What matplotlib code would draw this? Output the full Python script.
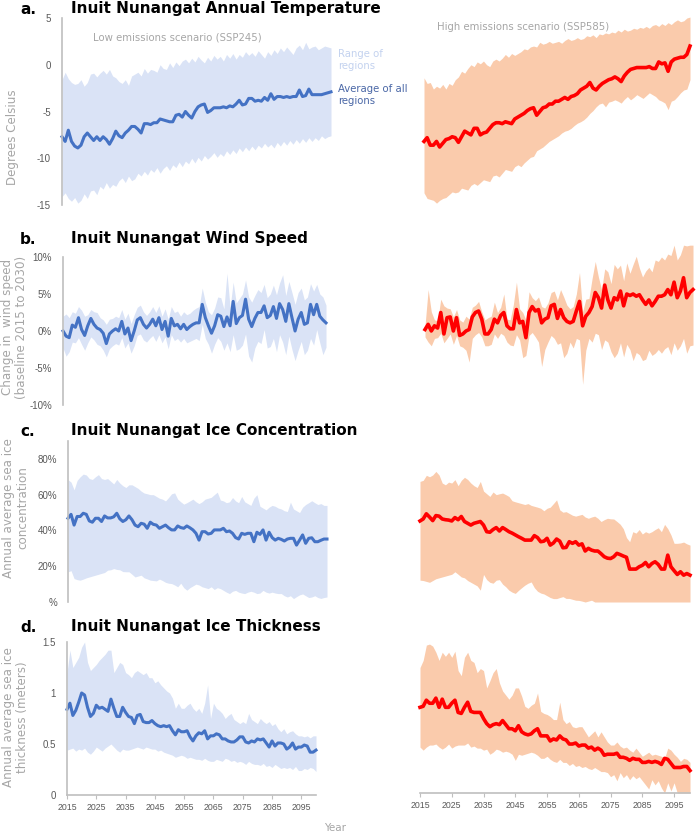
import numpy as np
import matplotlib
matplotlib.use('Agg')
import matplotlib.pyplot as plt

years = np.arange(2015, 2101)

# ---- a. annual temperature (deg C) ----
temp_low_mean = [
    -7.7, -8.2, -7.0, -8.2, -8.7, -8.9, -8.6, -7.7, -7.3, -7.7,
    -8.1, -7.7, -8.1, -7.7, -8.0, -8.5, -7.9, -7.1, -7.6, -7.8,
    -7.3, -7.0, -6.6, -6.6, -6.9, -7.3, -6.3, -6.3, -6.4, -6.2,
    -6.2, -5.8, -5.9, -6.0, -6.1, -6.1, -5.4, -5.3, -5.6, -5.0,
    -5.4, -5.7, -5.0, -4.5, -4.3, -4.2, -5.1, -4.9, -4.6, -4.6,
    -4.6, -4.5, -4.6, -4.4, -4.5, -4.2, -3.8, -4.3, -4.2, -3.6,
    -3.6, -3.9, -3.8, -3.9, -3.5, -3.8, -3.1, -3.7, -3.4, -3.4,
    -3.5, -3.4, -3.5, -3.4, -3.4, -2.7, -3.4, -3.3, -2.6, -3.2,
    -3.2, -3.2, -3.2, -3.1, -3.0, -2.9]
temp_low_hi = [
    -1.6, -0.8, -1.5, -1.9, -2.1, -2.0, -1.6, -2.3, -1.9, -1.0,
    -0.9, -1.3, -0.9, -0.6, -1.0, -0.5, -1.2, -1.4, -1.8, -2.0,
    -1.6, -2.2, -1.2, -1.0, -0.8, -1.2, -0.4, -0.9, -0.5, -0.6,
    -0.8, 0.0, -0.4, -0.5, 0.2, -0.3, 0.3, -0.1, 0.4, 0.6,
    0.2, 0.7, 0.3, 0.9, 0.5, 0.2, 0.8, 0.4, 1.0, 0.6,
    0.9, 0.4, 1.1, 0.7, 1.2, 0.6, 1.1, 0.8, 1.4, 1.0,
    1.3, 0.9, 1.5, 1.1, 0.7, 1.4, 1.0, 1.6, 1.2, 1.8,
    1.4, 1.9, 1.5, 1.1, 1.8, 2.1, 1.6, 2.4, 1.7, 1.9,
    2.0, 1.6, 1.8, 2.0, 1.9, 1.8]
temp_low_lo = [
    -14.1, -13.7, -14.3, -14.6, -14.2, -14.8, -14.5, -13.8, -14.3, -13.5,
    -13.4, -13.9, -13.0, -13.3, -12.6, -13.2, -12.8, -13.0, -12.4, -12.1,
    -12.6, -11.9, -12.4, -12.2, -11.6, -11.9, -11.4, -11.8, -11.2, -11.5,
    -11.0, -11.6, -11.1, -10.8, -11.3, -10.7, -11.0, -10.4, -10.9, -10.3,
    -10.6, -10.0, -10.5, -9.9, -10.3, -9.7, -10.1, -9.8, -9.4, -9.9,
    -9.5, -9.8, -9.2, -9.6, -9.1, -9.5, -8.9, -9.3, -8.8, -9.2,
    -8.7, -9.1, -8.6, -8.9, -8.4, -8.8, -8.5, -8.9, -8.3, -8.7,
    -8.2, -8.6, -8.1, -8.5, -8.0, -8.4, -7.9, -8.3, -7.8, -8.2,
    -7.8, -8.1, -7.6, -7.9, -7.7, -7.6]
temp_high_mean = [
    -8.2, -7.8, -8.6, -8.6, -8.2, -8.8, -8.4, -8.0, -7.9, -7.7,
    -7.8, -8.3, -7.7, -7.1, -7.3, -7.5, -6.8, -6.8, -7.5, -7.3,
    -7.2, -6.8, -6.4, -6.2, -6.2, -6.3, -6.1, -6.2, -6.3, -5.8,
    -5.6, -5.4, -5.2, -4.9, -4.7, -4.6, -5.4, -5.0, -4.6, -4.5,
    -4.2, -4.2, -3.9, -3.9, -3.7, -3.5, -3.7, -3.4, -3.3, -3.1,
    -2.7, -2.5, -2.3, -1.9, -2.5, -2.7, -2.3, -2.0, -1.8, -1.6,
    -1.5, -1.3, -1.5, -1.8, -1.2, -0.8, -0.5, -0.4, -0.3, -0.3,
    -0.3, -0.3, -0.2, -0.4, -0.4, 0.3, 0.1, 0.2, -0.7, 0.3,
    0.6, 0.7, 0.8, 0.8, 1.1, 2.0]
temp_high_hi = [
    -1.4, -2.0, -1.9, -2.6, -2.3, -2.5, -2.1, -2.6, -2.0, -2.2,
    -1.6, -1.3, -0.7, -0.9, -0.4, 0.0, -0.2, 0.3, 0.1, 0.4,
    0.0, -0.2, 0.4, 0.6, 0.4, 0.7, 1.1, 0.8, 1.2, 1.0,
    1.2, 1.4, 1.7, 1.6, 1.9, 2.0, 1.9, 2.4, 2.2, 2.3,
    2.5, 2.3, 2.4, 2.5, 2.3, 2.6, 2.8, 2.6, 2.7, 2.9,
    2.7, 2.8, 3.1, 3.0, 3.2, 2.9, 3.3, 3.2, 3.4, 3.3,
    3.5, 3.4, 3.7, 3.5, 3.8, 3.6, 3.7, 3.9, 3.8, 4.0,
    3.9, 4.1, 3.9, 4.2, 4.3, 4.1, 4.4, 4.2, 4.5, 4.3,
    4.6, 4.8, 4.6, 4.7, 5.0, 5.1]
temp_high_lo = [
    -13.7, -14.3, -14.4, -14.5, -14.8, -14.5, -14.3, -14.2, -13.9, -13.6,
    -13.7, -13.6, -13.2, -13.3, -13.4, -12.9, -12.7, -12.9, -12.6, -12.3,
    -12.4, -12.5, -11.9, -11.8, -12.0, -11.6, -11.2, -11.3, -11.4, -10.9,
    -10.7, -10.9, -10.5, -10.2, -9.9, -9.8, -9.2, -9.0, -8.8, -8.5,
    -8.2, -8.0, -7.8, -7.6, -7.3, -7.1, -7.0, -6.8, -6.5, -6.25,
    -6.1, -5.9, -5.6, -5.2, -4.9, -4.5, -4.2, -4.1, -4.5, -4.0,
    -3.9, -3.75, -3.9, -4.1, -3.7, -3.4, -3.75, -3.5, -3.2, -3.4,
    -3.6, -3.3, -3.0, -3.2, -3.4, -3.75, -3.9, -4.1, -4.8, -3.9,
    -3.75, -3.4, -3.0, -2.7, -2.6, -1.6]

# ---- b. wind speed change (%) ----
wind_low_mean = [
    0.0, -0.7, -0.9, 0.8, 0.5, 1.8, 0.2, -0.6, 0.7, 1.7,
    0.9, 0.4, 0.2, -0.3, -1.7, -0.4, 0.0, 0.3, 0.0, 1.3,
    -0.4, 0.4, -1.3, 0.0, 1.5, 1.8, 0.9, 0.4, 0.9, 1.6,
    0.7, 1.8, 0.2, 1.3, -0.7, 1.7, 0.7, 0.9, 0.3, 0.9,
    0.2, 0.6, 0.9, 1.1, 1.1, 3.6, 1.8, 0.7, -0.3, 0.7,
    2.2, 2.0, 0.6, 1.9, 0.7, 4.0, 1.0, 1.8, 2.1, 4.3,
    1.6, 0.6, 1.7, 2.5, 2.5, 3.4, 1.8, 2.1, 3.3, 1.7,
    3.7, 2.9, 1.3, 3.7, 1.8, 0.0, 1.6, 2.5, 0.9, 1.1,
    3.6, 2.2, 3.6, 2.0, 1.5, 1.1]
wind_low_hi = [
    2.0, 2.3, 1.8, 2.6, 2.4, 3.3, 2.8, 2.0, 2.2, 2.9,
    2.6, 2.5, 1.8, 1.5, 0.9, 1.6, 1.7, 2.0, 1.8, 2.9,
    1.6, 2.4, 1.0, 2.2, 3.2, 3.5, 2.6, 2.1, 2.6, 3.3,
    2.5, 3.4, 2.0, 3.0, 1.6, 3.3, 2.5, 2.7, 2.0, 2.6,
    2.2, 2.4, 2.8, 3.1, 3.3, 5.8, 3.9, 2.6, 2.2, 3.1,
    4.6, 4.5, 3.0, 7.8, 3.2, 6.6, 3.8, 4.4, 5.0, 6.9,
    4.6, 3.9, 4.8, 5.6, 5.2, 6.3, 4.5, 5.0, 6.2, 4.9,
    6.5, 7.6, 4.8, 6.7, 5.2, 3.6, 5.2, 5.8, 4.2, 4.6,
    6.4, 5.4, 6.3, 5.0, 4.6, 3.5]
wind_low_lo = [
    -2.3, -3.4, -2.8, -1.5, -1.6, -0.9, -1.8, -2.6, -1.6, -0.8,
    -1.2, -1.8, -2.0, -2.6, -3.5, -2.4, -2.0, -1.7, -1.9, -0.9,
    -2.3, -1.6, -3.0, -2.0, -0.6, -0.4, -1.2, -1.5, -1.0, -0.6,
    -1.4, -0.5, -1.6, -0.8, -2.4, -0.5, -1.3, -1.0, -1.5, -1.0,
    -1.6, -1.4, -1.2, -1.0, -1.3, 0.9, -1.0, -1.8, -3.0, -1.8,
    -0.9, -1.4, -2.6, -1.6, -2.8, -0.5, -2.6, -2.4, -1.9, -0.4,
    -3.4, -4.2, -2.3, -1.4, -1.7, 0.2, -2.3, -2.1, -1.0, -2.8,
    -0.5, -1.5, -3.2, -0.7, -2.5, -4.0, -2.6, -1.4, -3.2, -2.6,
    -1.0, -1.9, 0.2, -1.6, -3.2, -2.2]
wind_high_mean = [
    0.2, 0.9, 0.0, 0.7, 0.4, 2.5, -0.4, 1.8, 1.9, 0.0,
    1.8, -0.6, -0.4, 0.0, 0.2, 1.9, 2.5, 2.7, 1.6, -0.4,
    -0.4, 0.2, 1.6, 1.1, 2.1, 2.5, 0.7, 0.3, 0.3, 2.9,
    1.1, 1.3, -0.9, 2.5, 3.3, 2.7, 2.9, 1.1, 1.6, 1.8,
    3.4, 3.6, 1.7, 2.9, 1.8, 1.3, 1.1, 1.3, 2.7, 4.0,
    0.7, 2.0, 2.5, 3.3, 5.2, 4.5, 3.1, 6.2, 4.2, 3.1,
    4.5, 4.2, 5.4, 3.4, 5.0, 4.8, 5.0, 4.7, 4.9, 4.2,
    3.6, 4.2, 3.4, 4.0, 4.7, 4.7, 4.9, 5.6, 4.9, 6.6,
    4.5, 5.4, 7.2, 4.5, 5.2, 5.6]
wind_high_hi = [
    0.7, 5.6, 2.6, 1.5, 1.4, 4.3, 3.4, 3.1, 3.0, 1.9,
    2.9, 1.5, 1.2, 2.0, 1.6, 3.2, 3.5, 4.0, 2.6, 1.5,
    1.8, 2.0, 3.9, 2.5, 3.2, 5.0, 1.6, 1.5, 3.5, 6.6,
    3.0, 2.5, 1.5, 5.3, 4.5, 4.1, 4.6, 3.3, 3.1, 3.8,
    5.2, 5.4, 4.2, 5.6, 4.6, 3.5, 3.0, 3.3, 5.0, 7.9,
    2.6, 4.3, 4.4, 7.1, 9.4, 7.3, 5.6, 8.4, 8.0, 6.4,
    9.0, 8.4, 8.9, 6.8, 9.2, 7.8, 9.0, 10.1, 8.5, 7.3,
    8.1, 8.6, 8.0, 9.6, 9.4, 10.0, 9.6, 10.4, 10.2, 11.6,
    9.6, 10.3, 11.6, 11.5, 11.6, 11.6]
wind_high_lo = [
    -0.8, -1.5, -2.0, -1.0, -0.9, -0.3, -1.6, -1.0, -0.4, -1.8,
    -0.6, -2.0, -2.2, -2.6, -4.2, -1.0, -0.5, -0.2, -0.8, -2.0,
    -2.0, -1.8, -0.4, -1.0, -0.3, -0.6, -1.5, -1.9, -2.0, -0.5,
    -1.2, -3.6, -3.3, -0.6, -0.2, -0.8, -1.5, -4.8, -2.5, -1.5,
    -0.6, -1.0, -1.8, -1.6, -3.6, -3.0, -1.5, -2.3, -1.0, -1.2,
    -7.2, -2.6, -1.0, -1.5, -0.3, -0.5, -2.5, -1.2, -1.5, -2.8,
    -3.6, -3.0, -1.6, -3.5, -1.8, -2.5, -4.0, -2.9, -3.2, -4.0,
    -3.8, -2.6, -3.3, -3.0, -2.5, -3.0, -2.4, -2.1, -3.2, -1.6,
    -2.6, -2.0, -1.0, -3.0, -2.0, -1.9]

# ---- c. sea ice concentration (%) ----
ice_low_mean = [
    46.8, 49.0, 43.0, 47.8, 47.8, 49.6, 49.0, 45.3, 44.6, 46.8,
    46.8, 45.0, 48.1, 47.0, 47.0, 47.6, 49.6, 46.5, 45.0, 46.0,
    48.1, 46.0, 43.0, 42.1, 44.0, 43.5, 41.2, 44.6, 43.4, 43.0,
    41.2, 42.1, 43.0, 41.5, 40.3, 40.3, 42.5, 41.6, 41.2, 42.5,
    41.5, 40.3, 38.4, 34.6, 39.3, 39.3, 38.0, 38.4, 40.3, 40.3,
    40.3, 41.2, 39.3, 39.7, 38.4, 36.0, 35.2, 38.4, 37.8, 38.4,
    38.4, 33.7, 39.0, 37.8, 40.3, 34.6, 39.0, 36.0, 34.6, 35.6,
    35.0, 34.1, 35.2, 35.6, 35.6, 31.8, 34.6, 37.5, 32.8, 35.6,
    35.9, 33.7, 33.7, 34.5, 35.2, 35.2]
ice_low_hi = [
    68.4, 67.0, 62.7, 68.0, 70.0, 71.5, 71.0, 69.0, 68.5, 70.0,
    71.2, 69.0, 68.5, 69.0, 67.5, 66.0, 68.5, 66.5, 65.0, 64.0,
    65.5, 65.5, 64.5, 63.5, 62.0, 60.9, 60.5, 60.0, 60.0, 59.0,
    58.0, 57.5, 56.5, 58.4, 60.5, 61.0, 57.5, 56.0, 54.7, 55.5,
    56.5, 57.5, 56.0, 55.0, 56.0, 57.5, 58.0, 58.5, 60.0, 61.4,
    57.0, 56.5, 55.5, 56.0, 58.4, 56.5, 55.5, 59.0, 56.0, 55.0,
    54.0, 58.0, 60.0, 53.5, 52.5, 51.5, 53.0, 54.0, 53.5, 52.5,
    52.0, 51.0, 50.6, 55.8, 52.0, 51.0, 50.0, 53.0, 54.5, 55.5,
    56.6, 55.5, 54.5, 55.0, 54.0, 54.0]
ice_low_lo = [
    16.9, 17.5, 13.1, 12.5, 12.2, 12.8, 13.5, 14.0, 14.5, 15.0,
    15.5, 16.0, 16.5, 17.8, 18.0, 18.7, 18.2, 18.0, 17.0, 16.9,
    16.9, 15.5, 14.0, 14.5, 15.0, 13.5, 12.9, 12.2, 12.0, 11.8,
    12.8, 12.0, 11.0, 10.5, 10.3, 9.5, 8.5, 10.5, 8.0, 6.6,
    8.0, 9.0, 10.0, 9.5, 8.5, 8.0, 7.5, 8.5, 7.0, 8.0,
    7.5, 6.5, 5.5, 4.7, 6.0, 6.5, 5.5, 5.0, 4.7, 5.5,
    6.0, 5.5, 4.7, 5.0, 6.5, 5.5, 5.0, 5.5, 5.0, 4.7,
    4.7, 3.5, 2.8, 3.5, 1.9, 3.0, 4.0, 4.5, 3.5, 2.5,
    2.8, 3.5, 2.5, 2.0, 2.5, 2.8]
ice_high_mean = [
    45.3, 46.4, 49.3, 47.5, 45.5, 48.3, 48.0, 46.4, 46.0, 45.8,
    45.3, 47.2, 46.0, 47.8, 45.0, 44.0, 43.0, 44.0, 44.5, 45.0,
    43.0, 39.3, 39.0, 40.5, 41.6, 39.7, 41.6, 40.5, 39.3, 38.5,
    37.5, 36.5, 35.6, 34.6, 34.6, 34.6, 37.1, 36.0, 33.7, 34.0,
    35.6, 31.8, 33.0, 35.2, 34.0, 30.3, 30.5, 33.7, 32.8, 33.7,
    31.8, 32.5, 28.5, 30.0, 29.0, 28.5, 28.5, 27.0, 25.3, 24.5,
    24.3, 25.3, 27.2, 26.5, 25.7, 25.0, 18.4, 18.4, 18.4, 19.7,
    20.5, 22.1, 19.7, 21.5, 22.5, 21.0, 18.4, 18.4, 26.2, 19.7,
    17.5, 15.4, 16.9, 15.0, 15.9, 15.0]
ice_high_hi = [
    67.4, 68.0, 70.8, 70.0, 71.0, 73.0, 71.0, 66.5, 65.5, 67.0,
    66.5, 68.4, 65.0, 68.0, 69.7, 68.5, 66.5, 65.0, 64.0, 67.4,
    62.0, 60.5, 59.0, 61.5, 60.0, 60.5, 60.9, 60.0, 59.0, 56.6,
    56.0, 55.5, 55.0, 54.5, 55.0, 54.0, 53.5, 53.0, 52.4, 51.0,
    52.4, 53.0, 55.0, 57.1, 51.5, 50.2, 50.5, 49.5, 48.5, 48.0,
    48.5, 49.0, 47.5, 46.8, 47.5, 48.0, 46.8, 45.0, 46.0, 46.8,
    46.5, 46.4, 45.0, 43.5, 41.0, 36.0, 33.7, 39.3, 38.5, 40.5,
    38.0, 39.3, 38.5, 39.3, 40.5, 41.5, 39.3, 43.4, 41.0, 37.5,
    32.8, 32.8, 33.0, 33.5, 32.5, 31.8]
ice_high_lo = [
    12.2, 12.0, 11.5, 11.0, 12.0, 13.0, 13.5, 14.0, 14.5, 15.0,
    15.5, 16.9, 15.5, 14.0, 13.5, 12.0, 11.0, 10.0, 9.0, 6.6,
    15.4, 12.5, 11.0, 10.5, 12.2, 12.5, 10.0, 8.5, 6.6, 5.5,
    4.8, 6.5, 8.0, 9.4, 10.5, 11.2, 8.0, 6.0, 5.0, 4.5,
    3.5, 2.5, 1.9, 1.9, 2.5, 3.0, 2.0, 2.0, 1.5, 1.0,
    0.9, 0.5, 0.0, 0.5, 1.0, 0.0, 0.0, 0.0, 0.0, 0.0,
    0.0, 0.0, 0.0, 0.0, 0.0, 0.0, 0.0, 0.0, 0.0, 0.0,
    0.0, 0.0, 0.0, 0.0, 0.0, 0.0, 0.0, 0.0, 0.0, 0.0,
    0.0, 0.0, 0.0, 0.0, 0.0, 0.0]

# ---- d. sea ice thickness (m) ----
thick_low_mean = [
    0.84, 0.90, 0.78, 0.83, 0.91, 1.00, 0.98, 0.86, 0.77, 0.80,
    0.88, 0.85, 0.86, 0.84, 0.82, 0.94, 0.85, 0.77, 0.77, 0.86,
    0.81, 0.77, 0.76, 0.70, 0.78, 0.79, 0.72, 0.71, 0.71, 0.73,
    0.70, 0.68, 0.67, 0.68, 0.67, 0.68, 0.63, 0.59, 0.64, 0.62,
    0.62, 0.63, 0.57, 0.53, 0.58, 0.61, 0.60, 0.63, 0.55, 0.58,
    0.58, 0.60, 0.59, 0.55, 0.55, 0.53, 0.52, 0.52, 0.54, 0.57,
    0.57, 0.52, 0.51, 0.53, 0.52, 0.55, 0.54, 0.55, 0.51, 0.47,
    0.53, 0.48, 0.51, 0.51, 0.50, 0.45, 0.47, 0.51, 0.45, 0.47,
    0.47, 0.49, 0.48, 0.42, 0.42, 0.44]
thick_low_hi = [
    1.20, 1.42, 1.25, 1.30, 1.35, 1.45, 1.50, 1.30, 1.22, 1.25,
    1.28, 1.32, 1.35, 1.38, 1.42, 1.42, 1.20, 1.25, 1.30, 1.28,
    1.20, 1.18, 1.15, 1.20, 1.22, 1.20, 1.18, 1.20, 1.15, 1.15,
    1.10, 1.12, 1.08, 1.05, 1.02, 1.00, 0.95, 0.85, 0.90, 0.85,
    0.85, 0.88, 0.90, 0.85, 0.82, 0.85, 0.80, 0.90, 1.08, 0.75,
    0.90, 0.85, 0.83, 0.80, 0.75, 0.78, 0.80, 0.74, 0.72, 0.70,
    0.72, 0.70, 0.80, 0.74, 0.72, 0.70, 0.75, 0.72, 0.70, 0.72,
    0.68, 0.70, 0.65, 0.62, 0.65, 0.60, 0.62, 0.63, 0.60, 0.58,
    0.58, 0.57, 0.58, 0.56, 0.58, 0.58]
thick_low_lo = [
    0.44, 0.45, 0.46, 0.43, 0.45, 0.44, 0.46, 0.42, 0.40, 0.43,
    0.47, 0.45, 0.43, 0.46, 0.48, 0.50, 0.47, 0.44, 0.42, 0.45,
    0.44, 0.44, 0.45, 0.46, 0.47, 0.46, 0.45, 0.47, 0.46, 0.45,
    0.45, 0.43, 0.44, 0.42, 0.41, 0.40, 0.39, 0.37, 0.38, 0.39,
    0.38, 0.36, 0.37, 0.36, 0.35, 0.35, 0.34, 0.36, 0.34, 0.33,
    0.33, 0.35, 0.34, 0.33, 0.36, 0.35, 0.33, 0.34, 0.32, 0.33,
    0.32, 0.30, 0.33, 0.31, 0.30, 0.30, 0.29, 0.31, 0.28, 0.29,
    0.27, 0.30, 0.28, 0.26, 0.27, 0.26, 0.27, 0.25, 0.28, 0.24,
    0.24, 0.26, 0.25, 0.27, 0.26, 0.23]
thick_high_mean = [
    0.84, 0.85, 0.91, 0.88, 0.88, 0.93, 0.84, 0.92, 0.84, 0.84,
    0.88, 0.91, 0.79, 0.78, 0.84, 0.89, 0.80, 0.79, 0.79, 0.79,
    0.73, 0.68, 0.65, 0.67, 0.68, 0.67, 0.71, 0.67, 0.63, 0.63,
    0.61, 0.66, 0.60, 0.58, 0.57, 0.58, 0.61, 0.63, 0.56, 0.56,
    0.56, 0.51, 0.53, 0.52, 0.56, 0.53, 0.52, 0.48, 0.48, 0.49,
    0.46, 0.47, 0.47, 0.44, 0.45, 0.42, 0.44, 0.42, 0.37, 0.38,
    0.38, 0.38, 0.39, 0.35, 0.35, 0.34, 0.32, 0.34, 0.33, 0.33,
    0.30, 0.30, 0.31, 0.30, 0.31, 0.30, 0.28, 0.34, 0.33, 0.29,
    0.25, 0.25, 0.25, 0.26, 0.26, 0.22]
thick_high_hi = [
    1.23, 1.30, 1.45, 1.46, 1.44, 1.38, 1.30, 1.38, 1.34, 1.38,
    1.33, 1.39, 1.20, 1.15, 1.33, 1.38, 1.30, 1.28, 1.18, 1.22,
    1.20, 1.03, 1.10, 1.18, 1.22, 1.08, 1.00, 0.96, 0.92, 0.96,
    1.03, 1.03, 0.95, 0.85, 0.83, 0.86, 0.88, 0.98, 0.80, 0.78,
    0.77, 0.75, 0.72, 0.72, 0.89, 0.72, 0.68, 0.70, 0.65, 0.64,
    0.65, 0.65, 0.60, 0.55, 0.58, 0.61, 0.55, 0.60, 0.55, 0.50,
    0.47, 0.47, 0.50, 0.46, 0.44, 0.45, 0.42, 0.40, 0.44, 0.40,
    0.36, 0.38, 0.40, 0.37, 0.38, 0.37, 0.36, 0.34, 0.44, 0.42,
    0.38, 0.35, 0.31, 0.34, 0.33, 0.30]
thick_high_lo = [
    0.45, 0.42, 0.45, 0.47, 0.47, 0.48, 0.45, 0.43, 0.45, 0.48,
    0.44, 0.46, 0.47, 0.47, 0.47, 0.49, 0.45, 0.46, 0.44, 0.44,
    0.42, 0.43, 0.38, 0.40, 0.43, 0.42, 0.40, 0.41, 0.40, 0.38,
    0.32, 0.38, 0.37, 0.38, 0.39, 0.40, 0.39, 0.37, 0.34, 0.34,
    0.36, 0.33, 0.31, 0.30, 0.33, 0.30, 0.30, 0.27, 0.29, 0.26,
    0.27, 0.25, 0.26, 0.24, 0.23, 0.25, 0.23, 0.21, 0.21, 0.20,
    0.16, 0.18, 0.12, 0.20, 0.15, 0.18, 0.13, 0.17, 0.14, 0.16,
    0.12, 0.08, 0.04, 0.13, 0.08, 0.12, 0.05, 0.00, 0.10, 0.02,
    0.10, 0.00, 0.00, 0.00, 0.00, 0.00]

year_ticks = list(range(2015, 2100, 10))

BLUE = '#4472c4'
BLUE_FILL = '#dae3f6'
RED = '#ff0000'
RED_FILL = '#facbac'
GREY_TXT = '#a6a6a6'
TICK_TXT = '#595959'
SPINE = '#bfbfbf'

W, H = 698, 834
fig = plt.figure(figsize=(W / 100, H / 100), dpi=100)


def px_axes(x0, x1, ytop, ybot):
    # place an axes using pixel coordinates measured from the top-left corner
    return fig.add_axes([x0 / W, 1 - ybot / H, (x1 - x0) / W, (ybot - ytop) / H])


def ftext(x, y, s, **kw):
    fig.text(x / W, 1 - y / H, s, **kw)


def panel(ax, lo, hi, mean, fill, line, lw, ylim):
    ax.fill_between(years, lo, hi, color=fill, lw=0, clip_on=False)
    ax.plot(years, mean, color=line, lw=lw, solid_joinstyle='round', clip_on=False)
    ax.set_xlim(2015, 2100)
    ax.set_ylim(*ylim)
    for s in ax.spines.values():
        s.set_visible(False)
    ax.set_xticks([])
    ax.set_yticks([])
    ax.patch.set_alpha(0)


def left_axis(ax, ticks, labels):
    ax.spines['left'].set_visible(True)
    ax.spines['left'].set_color(SPINE)
    ax.spines['left'].set_linewidth(1.2)
    ax.set_yticks(ticks)
    ax.set_yticklabels(labels, fontsize=7, color=TICK_TXT, family='Liberation Sans')
    ax.tick_params(axis='y', length=0, pad=8)


def year_axis(ax):
    ax.spines['bottom'].set_visible(True)
    ax.spines['bottom'].set_color(SPINE)
    ax.spines['bottom'].set_linewidth(1.2)
    ax.set_xticks(year_ticks)
    ax.set_xticklabels([str(y) for y in year_ticks], fontsize=6.3, color=TICK_TXT,
                       family='Liberation Sans')
    ax.tick_params(axis='x', length=3, color=SPINE, pad=3)


# a. temperature
ax = px_axes(62, 331, 18, 205)
panel(ax, temp_low_lo, temp_low_hi, temp_low_mean, BLUE_FILL, BLUE, 2.2, (-15, 5))
left_axis(ax, [-15, -10, -5, 0, 5], ['-15', '-10', '-5', '0', '5'])
ax = px_axes(424, 690, 18, 205)
panel(ax, temp_high_lo, temp_high_hi, temp_high_mean, RED_FILL, RED, 2.6, (-15, 5))

# b. wind speed
ax = px_axes(63, 326, 257, 405)
panel(ax, wind_low_lo, wind_low_hi, wind_low_mean, BLUE_FILL, BLUE, 2.2, (-10, 10))
left_axis(ax, [-10, -5, 0, 5, 10], ['-10%', '-5%', '0%', '5%', '10%'])
ax = px_axes(425, 693, 257, 405)
panel(ax, wind_high_lo, wind_high_hi, wind_high_mean, RED_FILL, RED, 2.6, (-10, 10))

# c. ice concentration
ax = px_axes(68, 327, 441, 602)
panel(ax, ice_low_lo, ice_low_hi, ice_low_mean, BLUE_FILL, BLUE, 2.2, (0, 90))
left_axis(ax, [0, 20, 40, 60, 80], ['%', '20%', '40%', '60%', '80%'])
ax = px_axes(420, 690, 441, 602)
panel(ax, ice_high_lo, ice_high_hi, ice_high_mean, RED_FILL, RED, 2.6, (0, 90))

# d. ice thickness
ax = px_axes(67, 316, 642, 795)
panel(ax, thick_low_lo, thick_low_hi, thick_low_mean, BLUE_FILL, BLUE, 2.2, (0, 1.5))
left_axis(ax, [0, 0.5, 1, 1.5], ['0', '0.5', '1', '1.5'])
year_axis(ax)
ax = px_axes(420, 690, 640, 793)
panel(ax, thick_high_lo, thick_high_hi, thick_high_mean, RED_FILL, RED, 2.6, (0, 1.5))
year_axis(ax)

# panel titles
title_kw = dict(fontsize=11, fontweight='bold', color='black', va='center',
                family='DejaVu Sans')
for letter, title, ty in [('a.', 'Inuit Nunangat Annual Temperature', 9),
                          ('b.', 'Inuit Nunangat Wind Speed', 239),
                          ('c.', 'Inuit Nunangat Ice Concentration', 431),
                          ('d.', 'Inuit Nunangat Ice Thickness', 627)]:
    ftext(20, ty, letter, **title_kw)
    ftext(71, ty, title, **title_kw)

# y axis labels
ylab_kw = dict(fontsize=8.6, color=GREY_TXT, rotation=90, ha='center', va='center',
               linespacing=1.1)
ftext(13, 137, 'Degrees Celsius', **ylab_kw)
ftext(15, 327, 'Change in  wind speed\n(baseline 2015 to 2030)', **ylab_kw)
ftext(16, 508, 'Annual average sea ice\nconcentration', **ylab_kw)
ftext(16, 717, 'Annual average sea ice\nthickness (meters)', **ylab_kw)

# annotations
note_kw = dict(fontsize=7.3, va='center', linespacing=1.25)
ftext(177, 38, 'Low emissions scenario (SSP245)', color=GREY_TXT, ha='center', **note_kw)
ftext(523, 27, 'High emissions scenario (SSP585)', color=GREY_TXT, ha='center', **note_kw)
ftext(338, 60, 'Range of\nregions', color='#c3d2ef', ha='left', **note_kw)
ftext(338, 95, 'Average of all\nregions', color='#4a67a6', ha='left', **note_kw)
ftext(335, 828, 'Year', color=GREY_TXT, ha='center', fontsize=7.5, va='center')

fig.savefig('out.png', dpi=100)
